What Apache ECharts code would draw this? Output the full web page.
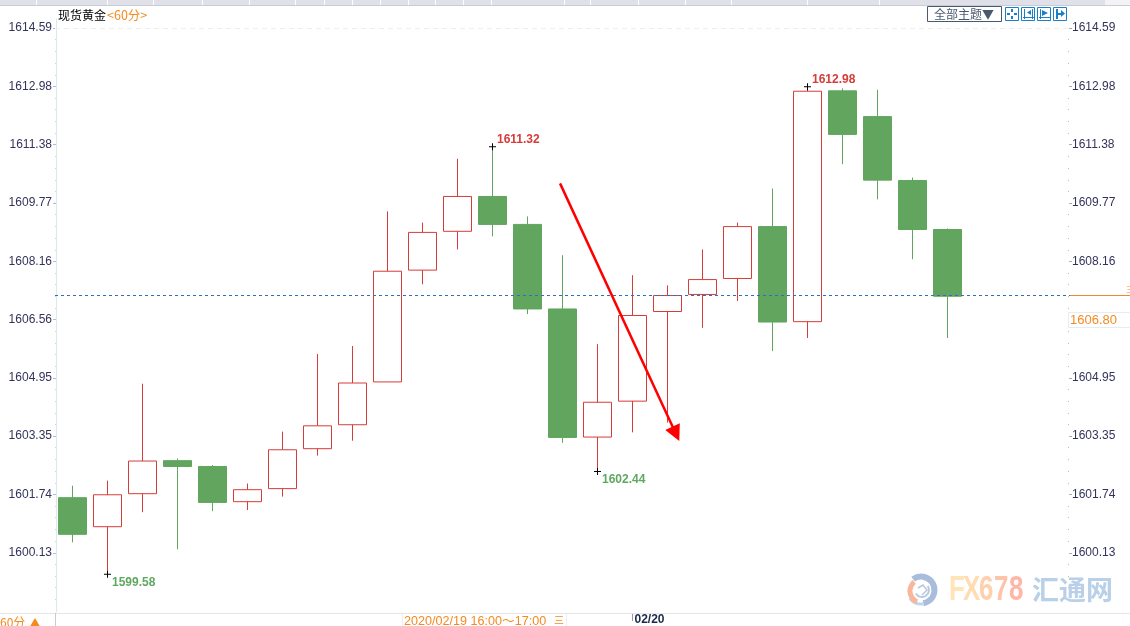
<!DOCTYPE html>
<html>
<head>
<meta charset="utf-8">
<style>
  html, body { margin: 0; padding: 0; background: #fff; }
  #chart { width: 1130px; height: 626px; }
</style>
<script src="https://cdn.jsdelivr.net/npm/echarts@6/dist/echarts.min.js"></script>
</head>
<body>
<div id="chart"></div>
<script>
// hourly slots, the last three stay empty
const hours = ['02/19 08:00','02/19 09:00','02/19 10:00','02/19 11:00','02/19 12:00','02/19 13:00','02/19 14:00','02/19 15:00',
  '02/19 16:00','02/19 17:00','02/19 18:00','02/19 19:00','02/19 20:00','02/19 21:00','02/19 22:00','02/19 23:00',
  '02/20 00:00','02/20 01:00','02/20 02:00','02/20 03:00','02/20 04:00','02/20 05:00','02/20 06:00','02/20 07:00',
  '02/20 08:00','02/20 09:00','02/20 10:00','02/20 11:00','02/20 12:00'];
const opens  = [1601.65,1600.85,1601.76,1602.67,1602.51,1601.54,1601.90,1603.00,1603.66,1604.84,1607.92,1608.99,1609.95,1609.18,1606.85,1603.32,1604.31,1606.78,1607.25,1607.69,1609.12,1606.50,1612.86,1612.15,1610.39,1609.04];
const closes = [1600.64,1601.73,1602.66,1602.51,1601.52,1601.87,1602.97,1603.63,1604.81,1607.89,1608.96,1609.95,1609.18,1606.85,1603.31,1604.28,1606.67,1607.22,1607.66,1609.12,1606.49,1612.85,1611.66,1610.40,1609.04,1607.20];
const lows   = [1600.42,1599.54,1601.25,1600.23,1601.28,1601.31,1601.68,1602.81,1603.22,1604.84,1607.53,1608.49,1608.85,1606.71,1603.16,1602.37,1603.45,1603.72,1606.33,1607.07,1605.69,1606.05,1610.84,1609.87,1608.22,1606.05];
const highs  = [1601.98,1602.12,1604.79,1602.73,1602.55,1602.04,1603.47,1605.61,1605.83,1609.54,1609.23,1610.99,1611.32,1609.40,1608.33,1605.88,1607.78,1607.50,1608.49,1609.23,1610.17,1612.97,1612.93,1612.89,1610.47,1609.07];

const priceTicks = [1614.59,1612.98,1611.38,1609.77,1608.16,1606.56,1604.95,1603.35,1601.74,1600.13];
const minorTicks = [1614.27,1613.95,1613.63,1613.30,1612.66,1612.34,1612.02,1611.70,1611.06,1610.74,1610.41,1610.09,1609.45,1609.13,1608.80,1608.48,
  1607.84,1607.52,1607.20,1606.88,1606.24,1605.91,1605.59,1605.27,1604.63,1604.31,1603.99,1603.67,1603.03,1602.71,1602.38,1602.06,1601.42,1601.10,1600.77,1600.45,1599.81,1599.49,1599.17,1598.85];

const peakIndex = [1, 12, 15, 21];
const peakValue = [1599.54, 1611.32, 1602.37, 1612.97];
const peakText = ['1599.58', '1611.32', '1602.44', '1612.98'];
const peakSide = ['low', 'high', 'low', 'high'];

const lastPrice = 1607.22;
const shownPrice = '1606.80';
const tabEdges = [36,107,153,202,249,295,324,352,380,408,435,463,491,564,590,638,685,731,807,879];

const red = '#d63c38';
const green = '#61a55e';
const orange = '#f58a1f';
const blue = '#1b80c8';
const axisFont = 'Arial, "Liberation Sans", sans-serif';
const cjkFont = '"Noto Sans CJK SC", sans-serif';

const chart = echarts.init(document.getElementById('chart'), null, { renderer: 'canvas' });

// top strip of the terminal, its tabs, toolbar and the bottom status bar
const chrome = [
  { type: 'rect', shape: { x: 0, y: 0, width: 1105, height: 5 }, style: { fill: '#dfe0e8' } },
  { type: 'rect', shape: { x: 0, y: 5, width: 1130, height: 1 }, style: { fill: '#c9ccd6' } },
  { type: 'rect', shape: { x: 1105, y: 0, width: 25, height: 5 }, style: { fill: '#f3f3f6' } },
  { type: 'text', x: 58, y: 15, style: { text: '现货黄金', font: '12px ' + cjkFont, fill: '#000', verticalAlign: 'middle' } },
  { type: 'text', x: 107, y: 15, style: { text: '<60分>', font: '12.5px ' + cjkFont, fill: orange, verticalAlign: 'middle' } },
  { type: 'rect', shape: { x: 927.5, y: 6.5, width: 74, height: 15 }, style: { fill: '#fff', stroke: '#4a5a6e' } },
  { type: 'text', x: 934, y: 14, style: { text: '全部主题▼', font: '12px ' + cjkFont, fill: '#4a5a6e', verticalAlign: 'middle' } },
  { type: 'line', shape: { x1: 1069, y1: 295.5, x2: 1130, y2: 295.5 }, style: { stroke: '#ee8a2c' } },
  { type: 'text', x: 1126, y: 289, style: { text: '三', font: '8px ' + cjkFont, fill: orange, verticalAlign: 'middle' } },
  { type: 'rect', shape: { x: 1068.5, y: 312.5, width: 62, height: 15 }, style: { fill: '#fff', stroke: '#e6edf2' } },
  { type: 'text', x: 1070, y: 320, style: { text: shownPrice, font: '13px ' + axisFont, fill: orange, verticalAlign: 'middle' } },
  { type: 'rect', shape: { x: 0, y: 613, width: 1130, height: 1 }, style: { fill: '#e6e6e6' } },
  { type: 'line', shape: { x1: 55.5, y1: 613, x2: 55.5, y2: 626 }, style: { stroke: '#c9ccd6' } },
  { type: 'text', x: 0, y: 622, style: { text: '60分', font: '12px ' + cjkFont, fill: orange, verticalAlign: 'middle' } },
  { type: 'text', x: 30, y: 622, style: { text: '▲', font: '10px ' + cjkFont, fill: orange, verticalAlign: 'middle' } },
  { type: 'line', shape: { x1: 402.5, y1: 614, x2: 402.5, y2: 626 }, style: { stroke: '#eee' } },
  { type: 'line', shape: { x1: 566.5, y1: 614, x2: 566.5, y2: 626 }, style: { stroke: '#eee' } },
  { type: 'line', shape: { x1: 632.5, y1: 614, x2: 632.5, y2: 621 }, style: { stroke: '#999' } },
  { type: 'text', x: 404, y: 622, style: { text: '2020/02/19 16:00～17:00', font: '12.6px ' + axisFont + ', ' + cjkFont, fill: orange, verticalAlign: 'middle' } },
  { type: 'text', x: 554, y: 620, style: { text: '三', font: '10px ' + cjkFont, fill: orange, verticalAlign: 'middle' } }
];
tabEdges.forEach(x => chrome.push({ type: 'rect', shape: { x: x, y: 0, width: 1, height: 5 }, style: { fill: '#fff' } }));

// four little tool buttons, glyphs are built from small rects and triangles
const buttonX = [1005, 1021, 1037, 1053];
const box = (x, y, w, h) => ({ type: 'rect', shape: { x: x, y: y, width: w, height: h }, style: { fill: blue } });
const tri = pts => ({ type: 'polygon', shape: { points: pts }, style: { fill: blue } });
buttonX.forEach((x, i) => {
  chrome.push({ type: 'rect', shape: { x: x + 0.5, y: 7.5, width: 13, height: 13 }, style: { fill: '#fff', stroke: blue, lineWidth: 1 } });
  if (i === 0) {
    chrome.push(box(x + 6, 9, 2, 3), box(x + 6, 16, 2, 3), box(x + 2, 13, 3, 2), box(x + 9, 13, 3, 2));
  } else if (i === 1) {
    chrome.push(box(x + 3, 9, 1, 10), box(x + 11, 9, 1, 10), box(x + 2, 17, 11, 1), tri([[x + 10, 10], [x + 10, 15], [x + 6, 12.5]]));
  } else if (i === 2) {
    chrome.push(box(x + 3, 9, 1, 10), box(x + 2, 17, 11, 1), tri([[x + 5, 10], [x + 5, 16], [x + 11, 13]]));
  } else {
    chrome.push(box(x + 3, 9, 2, 10), box(x + 5, 13, 4, 2), tri([[x + 8, 10], [x + 8, 17], [x + 12, 13.5]]));
  }
});

// FX678 watermark, letter by letter so each one gets its own tint
const wmLetters = ['F', 'X', '6', '7', '8'];
const wmLetterX = [949, 963, 979, 994, 1009];
const wmLetterColor = ['#ffe4b8', '#ffdcb2', '#ffd0ad', '#ffc3aa', '#ffb6a6'];
const watermark = [
  { type: 'arc', shape: { cx: 921, cy: 590, r: 13.5, startAngle: -2.2, endAngle: 1.4 }, style: { fill: 'none', stroke: '#a9bcdc', lineWidth: 6 } },
  { type: 'arc', shape: { cx: 921, cy: 590, r: 14, startAngle: 1.4, endAngle: 2.5 }, style: { fill: 'none', stroke: '#bcd6ee', lineWidth: 3 } },
  { type: 'arc', shape: { cx: 922, cy: 591, r: 12, startAngle: 2.0, endAngle: 4.0 }, style: { fill: 'none', stroke: '#f9b79a', lineWidth: 5 } },
  { type: 'arc', shape: { cx: 922, cy: 590, r: 7, startAngle: -0.6, endAngle: 2.6 }, style: { fill: 'none', stroke: '#b6c8e2', lineWidth: 2 } },
  { type: 'polyline', shape: { points: [[918, 588], [923, 585], [927, 590], [922, 595]] }, style: { fill: 'none', stroke: '#b6c8e2', lineWidth: 1.5 } },
  { type: 'text', x: 1032, y: 590, style: { text: '汇通网', font: 'bold 27px ' + cjkFont, fill: '#b9d0e8', verticalAlign: 'middle' } }
];
wmLetters.forEach((c, i) => watermark.push({
  type: 'text', x: wmLetterX[i], y: 590, scaleX: 0.74,
  style: { text: c, font: 'bold 35px "Liberation Sans", sans-serif', fill: wmLetterColor[i], verticalAlign: 'middle' }
}));

chart.setOption({
  animation: false,
  backgroundColor: '#fff',
  graphic: { elements: chrome.concat(watermark).map(el => Object.assign({ silent: true, z: 1 }, el)) },
  grid: { left: 55, top: 19, width: 1015, height: 595 },
  xAxis: [
    {
      type: 'category', data: hours, boundaryGap: true,
      axisLine: { show: false },
      axisTick: { show: false },
      splitLine: { show: false },
      axisLabel: {
        interval: 0, margin: 2, align: 'left', padding: [0, 0, 0, 2], color: '#1c2a4a', fontWeight: 'bold', fontSize: 12, fontFamily: axisFont,
        formatter: v => v === '02/20 00:00' ? '02/20' : ''
      }
    },
    { type: 'value', min: 0, max: 29, show: false }
  ],
  yAxis: [
    {
      type: 'value', position: 'left', offset: -1, min: 1598.50, max: 1614.84,
      axisLine: { show: true, lineStyle: { color: '#dfe8ee' } },
      axisTick: { show: true, length: 3, customValues: priceTicks, lineStyle: { color: '#9fc3d8' } },
      axisLabel: { customValues: priceTicks, margin: 4, color: '#33335a', fontSize: 12, fontFamily: axisFont, formatter: v => v.toFixed(2) },
      splitLine: { show: false }
    },
    {
      type: 'value', position: 'right', offset: -1, min: 1598.50, max: 1614.84,
      axisLine: { show: false },
      axisTick: { show: true, inside: false, length: 3, customValues: priceTicks, lineStyle: { color: '#aaa' } },
      axisLabel: { customValues: priceTicks, margin: 3, color: '#33335a', fontSize: 12, fontFamily: axisFont, formatter: v => v.toFixed(2) },
      splitLine: { show: false }
    },
    {
      type: 'value', position: 'left', offset: -1, min: 1598.50, max: 1614.84,
      axisLine: { show: false },
      axisTick: { show: true, inside: false, length: 1, customValues: minorTicks, lineStyle: { color: '#c6d8e4' } },
      axisLabel: { show: false },
      splitLine: { show: false }
    },
    {
      type: 'value', position: 'right', offset: -1, min: 1598.50, max: 1614.84,
      axisLine: { show: false },
      axisTick: { show: true, inside: true, length: 1, customValues: minorTicks, lineStyle: { color: '#bbb' } },
      axisLabel: { show: false },
      splitLine: { show: false }
    }
  ],
  series: [
    {
      type: 'candlestick',
      barWidth: 28,
      data: opens.map((o, i) => [o, closes[i], lows[i], highs[i]]),
      itemStyle: { color: '#fff', color0: green, borderColor: red, borderColor0: green, borderWidth: 1 },
      z: 3
    },
    {
      // crosses and value tags at the extremes
      type: 'scatter',
      symbol: 'path://M0 3H7V4H0ZM3 0H4V7H3Z',
      symbolSize: 7,
      itemStyle: { color: '#000', opacity: 1 },
      data: peakIndex.map((x, i) => ({
        value: [x, peakValue[i]],
        label: {
          show: true, position: 'right',
          formatter: peakText[i],
          distance: 1,
          offset: peakSide[i] === 'high' ? [0, -7] : [0, 8],
          color: peakSide[i] === 'high' ? red : '#5fa860',
          fontWeight: 'bold', fontSize: 12, fontFamily: axisFont
        }
      })),
      z: 4
    },
    {
      // reference lines
      type: 'line',
      data: [],
      markLine: {
        silent: true, symbol: 'none', label: { show: false },
        data: [
          { yAxis: lastPrice, lineStyle: { color: '#2a6fc0', type: [3, 3], width: 1 } },
          { yAxis: priceTicks[0], lineStyle: { color: '#eeeeee', type: [5, 4], width: 1 } }
        ]
      },
      z: 5
    },
    {
      // red arrow the analyst drew over the chart
      type: 'line',
      xAxisIndex: 1,
      data: [],
      markLine: {
        silent: true,
        symbol: ['none', 'triangle'],
        symbolSize: 16,
        label: { show: false },
        lineStyle: { color: '#ff0000', type: 'solid', width: 2.5 },
        data: [[{ coord: [14.43, 1610.31] }, { coord: [17.74, 1603.41] }]]
      },
      z: 6
    }
  ]
});
</script>
</body>
</html>
